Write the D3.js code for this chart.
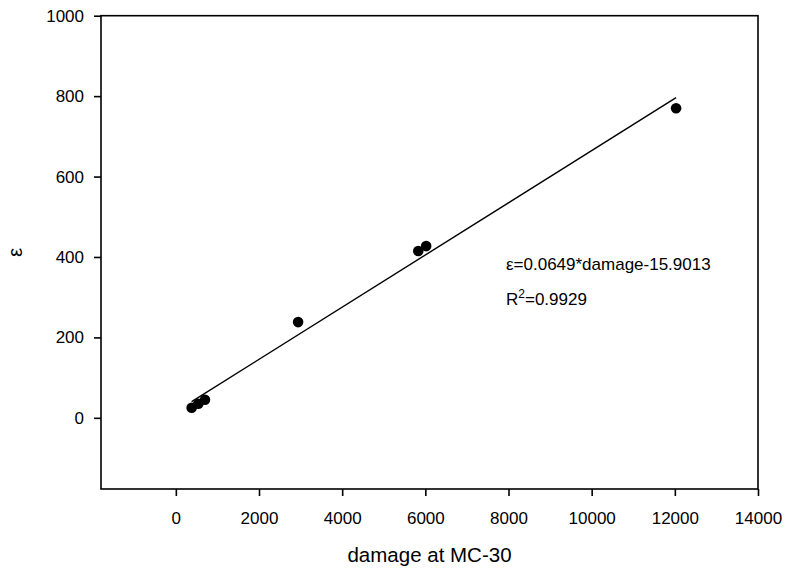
<!DOCTYPE html>
<html>
<head>
<meta charset="utf-8">
<script src="https://cdn.jsdelivr.net/npm/d3@7"></script>
<style>
  html, body { margin: 0; padding: 0; background: #fff; }
  svg { display: block; font-family: "Liberation Sans", Arial, sans-serif; }
</style>
</head>
<body>
<svg id="chart" width="787" height="569"></svg>
<script>
// Measured damage at MC-30 and corresponding strain ε
const damage = [380, 540, 700, 2940, 5830, 6020, 12030];
const strain = [25, 35, 45, 238, 415, 427, 770];

const xTicks = [0, 2000, 4000, 6000, 8000, 10000, 12000, 14000];
const yTicks = [0, 200, 400, 600, 800, 1000];

const xDomain = [-1800, 14000];
const yDomain = [-177, 1000];

const equationText = "ε=0.0649*damage-15.9013";
const r2Value = "=0.9929";

const svg = d3.select("#chart");
const plotLeft = 101, plotRight = 758, plotTop = 15.7, plotBottom = 489;

const x = d3.scaleLinear().domain(xDomain).range([plotLeft, plotRight]);
const y = d3.scaleLinear().domain(yDomain).range([plotBottom, plotTop]);

// Least-squares regression line through the measured points
const mx = d3.mean(damage), my = d3.mean(strain);
const sxy = d3.sum(damage, (d, i) => (d - mx) * (strain[i] - my));
const sxx = d3.sum(damage, d => (d - mx) * (d - mx));
const slope = sxy / sxx;
const intercept = my - slope * mx;
const [x0, x1] = d3.extent(damage);

// Frame
svg.append("rect")
  .attr("x", plotLeft).attr("y", plotTop)
  .attr("width", plotRight - plotLeft).attr("height", plotBottom - plotTop)
  .attr("fill", "none").attr("stroke", "#000").attr("stroke-width", 1.6);

// Axes
const fontSize = 17;
const titleSize = 20.5;
const xAxis = svg.append("g")
  .attr("transform", `translate(0,${plotBottom})`)
  .call(d3.axisBottom(x).tickValues(xTicks).tickSize(7).tickPadding(16).tickFormat(d3.format("d")));
const yAxis = svg.append("g")
  .attr("transform", `translate(${plotLeft},0)`)
  .call(d3.axisLeft(y).tickValues(yTicks).tickSize(7).tickPadding(10).tickFormat(d3.format("d")));

[xAxis, yAxis].forEach(g => {
  g.select(".domain").remove();
  g.selectAll(".tick line").attr("stroke", "#000").attr("stroke-width", 1.6);
  g.selectAll(".tick text")
    .attr("fill", "#000")
    .style("font-size", fontSize + "px")
    .style("font-family", '"Liberation Sans", Arial, sans-serif');
});

// Fit line
svg.append("line")
  .attr("x1", x(x0)).attr("y1", y(slope * x0 + intercept))
  .attr("x2", x(x1)).attr("y2", y(slope * x1 + intercept))
  .attr("stroke", "#000").attr("stroke-width", 1.4);

// Data points
svg.append("g").selectAll("circle")
  .data(damage.map((d, i) => [d, strain[i]]))
  .join("circle")
  .attr("cx", d => x(d[0]))
  .attr("cy", d => y(d[1]))
  .attr("r", 5.3)
  .attr("fill", "#000");

// Equation and R²
svg.append("text")
  .attr("x", 506).attr("y", 269.5)
  .style("font-size", fontSize + "px")
  .attr("fill", "#000")
  .text(equationText);

const r2 = svg.append("text")
  .attr("x", 506).attr("y", 304.5)
  .style("font-size", fontSize + "px")
  .attr("fill", "#000");
r2.append("tspan").text("R");
r2.append("tspan").attr("dy", -7).style("font-size", "12px").text("2");
r2.append("tspan").attr("dy", 7).text(r2Value);

// Axis titles
svg.append("text")
  .attr("x", (plotLeft + plotRight) / 2).attr("y", 562)
  .attr("text-anchor", "middle")
  .style("font-size", titleSize + "px")
  .attr("fill", "#000")
  .text("damage at MC-30");

svg.append("text")
  .attr("transform", `translate(22,${(plotTop + plotBottom) / 2}) rotate(-90)`)
  .attr("text-anchor", "middle")
  .style("font-size", titleSize + "px")
  .attr("fill", "#000")
  .text("ε");
</script>
</body>
</html>
